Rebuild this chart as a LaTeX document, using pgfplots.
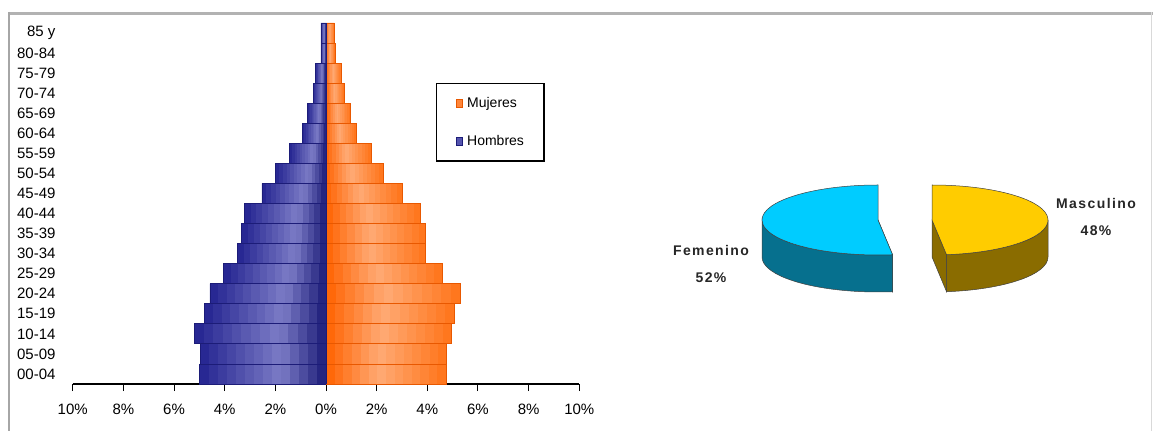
\documentclass[border=0pt]{standalone}
\usepackage{fontspec}
\setmainfont{Liberation Sans}
\newfontfamily\pielab[LetterSpace=10]{Liberation Sans}
\usepackage{pgfplots}
\usepackage{pgfplotstable}
\pgfplotsset{compat=1.18}

\definecolor{hombD}{HTML}{1C1C78}
\definecolor{hombL}{HTML}{7C7CC6}
\definecolor{hombE}{HTML}{242490}
\definecolor{mujD}{HTML}{FF6200}
\definecolor{mujL}{HTML}{FFAA74}
\definecolor{mujE}{HTML}{FF7418}
\definecolor{mujB}{HTML}{E85800}
\definecolor{femTop}{HTML}{00CCFF}
\definecolor{femSide}{HTML}{06708E}
\definecolor{masTop}{HTML}{FFCC00}
\definecolor{masSide}{HTML}{8A6C00}

\newcommand\tickfont{\fontsize{15pt}{15pt}\selectfont}

% age groups, 0 = 00-04 ... 17 = 85 y; shares in %
\pgfplotstableread{
y  hom    muj
0  -4.99  4.74
1  -4.96  4.77
2  -5.19  4.96
3  -4.80  5.08
4  -4.58  5.31
5  -4.06  4.59
6  -3.48  3.94
7  -3.33  3.94
8  -3.21  3.73
9  -2.53  3.00
10 -1.98  2.25
11 -1.45  1.79
12 -0.92  1.19
13 -0.72  0.97
14 -0.50  0.74
15 -0.42  0.62
16 -0.20  0.36
17 -0.20  0.33
}\pyramid

\pgfplotstableread{
sexo      share
Femenino  52
Masculino 48
}\piedata

\begin{document}
\begin{tikzpicture}[x=1pt,y=1pt]
\useasboundingbox (0,0) rectangle (1153,431);

% frame of the original sheet
\draw[black!30, line width=3pt] (8,417.5) -- (1153,417.5);
\draw[black!35, line width=2pt] (9,419) -- (9,0);
\draw[black!15, line width=1pt] (1151.5,419) -- (1151.5,0);

\begin{axis}[
  at={(72.7pt,47pt)}, anchor=south west,
  scale only axis, width=506.6pt, height=361pt,
  xbar, bar width=1, bar shift=0pt,
  xmin=-10, xmax=10, ymin=-0.5, ymax=17.5,
  xtick={-10,-8,...,10},
  xticklabel={\pgfmathparse{abs(\tick)}\pgfmathprintnumber[assume math mode=true]{\pgfmathresult}\%},
  ytick={0,...,17},
  yticklabels={00-04,05-09,10-14,15-19,20-24,25-29,30-34,35-39,40-44,45-49,50-54,55-59,60-64,65-69,70-74,75-79,80-84,85 y},
  axis x line*=bottom, axis y line*=left,
  x axis line style={-, line width=1.6pt},
  y axis line style={draw=none},
  tick align=outside, major tick length=7pt,
  xtick style={black, line width=1pt},
  ytick style={draw=none},
  ticklabel style={font=\tickfont, inner sep=0pt},
  xticklabel style={yshift=-13pt},
  yticklabel style={xshift=-10pt},
  reverse legend,
  legend image code/.code={\filldraw[#1, line width=0.6pt] (0pt,-4pt) rectangle (6pt,4pt);},
  legend style={at={(0.717,0.834)}, anchor=north west, draw=black, line width=1.3pt,
    inner xsep=19pt, inner ysep=13pt, row sep=24pt, column sep=4pt,
    font=\fontsize{14pt}{14pt}\selectfont, cells={anchor=west},
    nodes={inner sep=1pt}},
]
\addplot[draw=hombD, fill=hombL!55!hombE, line width=0.8pt]
  table[x=hom, y=y] {\pyramid};
\addplot[draw=mujB, fill=mujL!50!mujD, line width=0.8pt]
  table[x=muj, y=y] {\pyramid};
\legend{Hombres, Mujeres}
% Excel-like gradient along every bar, bar lengths taken from the table
\pgfplotsinvokeforeach{0,...,17}{
  \pgfmathsetmacro\ylo{#1-0.5}
  \pgfmathsetmacro\yhi{#1+0.5}
  \pgfplotstablegetelem{#1}{hom}\of\pyramid
  \let\vH\pgfplotsretval
  \pgfplotstablegetelem{#1}{muj}\of\pyramid
  \let\vM\pgfplotsretval
  \pgfplotsforeachungrouped \k in {0,...,13}{
    \pgfmathsetmacro\tpos{(\k+0.5)/14}
    \pgfmathsetmacro\xa{\vH*(1-\k/14)}
    \ifdim\tpos pt<0.64pt
      \pgfmathtruncatemacro\pc{\tpos/0.64*100}
      \edef\colspec{hombL!\pc!hombE}
    \else
      \pgfmathtruncatemacro\pc{(\tpos-0.64)/0.36*100}
      \edef\colspec{hombD!\pc!hombL}
    \fi
    \edef\cmd{\noexpand\fill[\colspec] (axis cs:\xa,\ylo) rectangle (axis cs:0,\yhi);}
    \cmd
    \pgfmathsetmacro\xb{\vM*(1-\k/14)}
    \ifdim\tpos pt<0.55pt
      \pgfmathtruncatemacro\pc{\tpos/0.55*100}
      \edef\colspec{mujL!\pc!mujE}
    \else
      \pgfmathtruncatemacro\pc{(\tpos-0.55)/0.45*100}
      \edef\colspec{mujD!\pc!mujL}
    \fi
    \edef\cmd{\noexpand\fill[\colspec] (axis cs:\xb,\ylo) rectangle (axis cs:0,\yhi);}
    \cmd
  }
  \edef\cmd{\noexpand\draw[hombD, line width=0.8pt] (axis cs:\vH,\ylo) rectangle (axis cs:0,\yhi);
    \noexpand\draw[mujB, line width=0.8pt] (axis cs:0,\ylo) rectangle (axis cs:\vM,\yhi);}
  \cmd
}
\draw[hombD, line width=1pt] (axis cs:0,-0.5) -- (axis cs:0,17.5);
\end{axis}

% exploded 3-D pie, axis units = pixels of the sheet
\pgfplotstablegetelem{1}{share}\of\piedata
\pgfmathsetmacro\cut{90-\pgfplotsretval*3.6}
\pgfmathsetmacro\cutF{\cut+360}
\begin{axis}[
  at={(0pt,0pt)}, anchor=south west,
  scale only axis, width=1153pt, height=431pt,
  xmin=0, xmax=1153, ymin=0, ymax=431,
  hide axis, clip=false,
]
% Femenino slice
\filldraw[fill=femSide, draw=black!75, line width=0.5pt]
  (axis cs:878,211) -- ++(\cut:116pt and 35pt) -- ++(0pt,-37pt) -- (axis cs:878,174) -- cycle;
\filldraw[fill=femSide, draw=black!75, line width=0.5pt]
  (axis cs:762,211) arc[start angle=180, end angle=\cutF, x radius=116pt, y radius=35pt]
  -- ++(0pt,-37pt) arc[start angle=\cutF, end angle=180, x radius=116pt, y radius=35pt] -- cycle;
\filldraw[fill=femTop, draw=black!75, line width=0.5pt]
  (axis cs:878,211) -- (axis cs:878,246) arc[start angle=90, end angle=\cutF, x radius=116pt, y radius=35pt] -- cycle;
% Masculino slice
\filldraw[fill=masSide, draw=black!75, line width=0.5pt]
  (axis cs:932,211) -- ++(\cut:116pt and 35pt) -- ++(0pt,-37pt) -- (axis cs:932,174) -- cycle;
\filldraw[fill=masSide, draw=black!75, line width=0.5pt]
  (axis cs:932,211) ++(\cut:116pt and 35pt) arc[start angle=\cut, end angle=0, x radius=116pt, y radius=35pt]
  -- ++(0pt,-37pt) arc[start angle=0, end angle=\cut, x radius=116pt, y radius=35pt] -- cycle;
\filldraw[fill=masTop, draw=black!75, line width=0.5pt]
  (axis cs:932,211) -- ++(\cut:116pt and 35pt) arc[start angle=\cut, end angle=90, x radius=116pt, y radius=35pt] -- cycle;
\node[align=center, font=\pielab\bfseries\fontsize{14pt}{27pt}\selectfont, text=black!85]
  at (axis cs:711,167.5) {Femenino\\52\%};
\node[align=center, font=\pielab\bfseries\fontsize{14pt}{27pt}\selectfont, text=black!85]
  at (axis cs:1096,214.5) {Masculino\\48\%};
\end{axis}
\end{tikzpicture}
\end{document}
